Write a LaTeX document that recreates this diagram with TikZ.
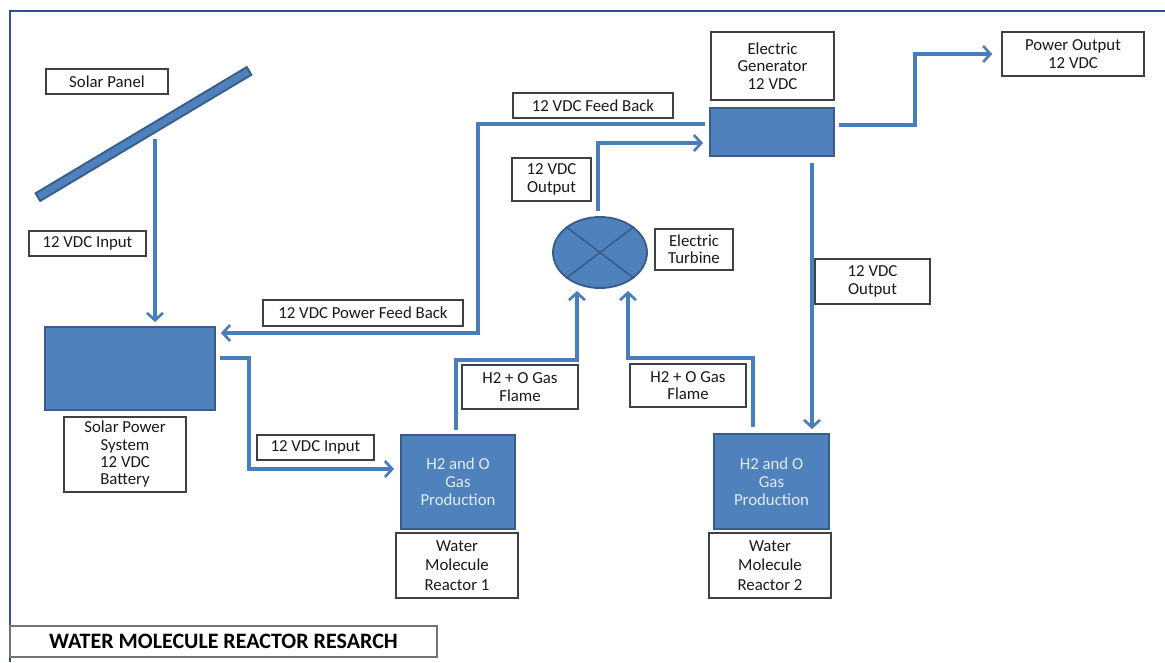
\documentclass[tikz,border=0pt]{standalone}
\usepackage{fontspec}
\setmainfont{Carlito}
\usetikzlibrary{shapes.geometric,arrows.meta,calc}
\definecolor{blk}{HTML}{4F81BD}
\definecolor{blkb}{HTML}{385D8A}
\definecolor{arr}{HTML}{4A7EBB}
\definecolor{frm}{HTML}{2F528F}
\def\u{0.75pt}
\tikzset{
  lbl/.style={draw=black!75, line width=1.1pt, fill=white, align=center, inner sep=0pt,
    font=\fontsize{12.6}{13}\selectfont, text=black!90},
  blkbox/.style={draw=blkb, line width=1.4pt, fill=blk, inner sep=0pt, align=center,
    font=\fontsize{12.6}{13.5}\selectfont, text=white!85!blk},
  conn/.style={draw=arr, line width=2.6pt, -{Straight Barb[length=5.5pt,width=12pt,line width=2pt]}},
}
\begin{document}
\begin{tikzpicture}[x=0.75pt,y=-0.75pt]
\useasboundingbox (0,0) rectangle (1165,662);
% frame
\draw[frm, line width=1.6pt] (10,662) -- (10,11) -- (1165,11);
% title
\node[draw=black!55, line width=1.1pt, fill=white, inner sep=0pt, minimum width=427*\u, minimum height=31*\u,
  font=\fontsize{16.5}{18}\selectfont\bfseries] (title) at (223.5,641.5) {WATER MOLECULE REACTOR RESARCH};

% solar panel
\node[lbl, minimum width=122*\u, minimum height=25*\u] (splbl) at (107,81.5) {Solar Panel};
\node[blkbox, rotate=30.85, minimum width=246*\u, minimum height=9*\u] (panel) at (143.5,134) {};
\coordinate (pin) at (155,139);
\node[lbl, minimum width=117*\u, minimum height=25*\u] (in1) at (87.5,243.5) {12 VDC Input};

% battery
\node[blkbox, minimum width=170*\u, minimum height=83*\u] (bat) at (130,368.5) {};
\node[lbl, minimum width=122*\u, minimum height=75*\u] (batlbl) at (125,454.5) {Solar Power\\System\\12 VDC\\Battery};
\draw[conn] (pin) -- ($(pin |- bat.north)+(0,-4)$);

% reactors
\node[blkbox, minimum width=114*\u, minimum height=94*\u] (h1) at (458,482) {H2 and O\\Gas\\Production};
\node[lbl, minimum width=122*\u, minimum height=65*\u, font=\fontsize{12.6}{14.5}\selectfont] (r1) at (457,565.5) {Water\\Molecule\\Reactor 1};
\node[blkbox, minimum width=115*\u, minimum height=95*\u] (h2) at (771.5,481.5) {H2 and O\\Gas\\Production};
\node[lbl, minimum width=122*\u, minimum height=65*\u, font=\fontsize{12.6}{14.5}\selectfont] (r2) at (770,565.5) {Water\\Molecule\\Reactor 2};

% battery -> reactor 1
\node[lbl, minimum width=117*\u, minimum height=25*\u] (in2) at (315.5,447.5) {12 VDC Input};
\draw[conn] ($(bat.east)+(4,-10.5)$) -- (249,358) |- ($(h1.west)+(-6,-13)$);

% generator
\node[lbl, minimum width=123*\u, minimum height=68*\u] (genlbl) at (772.5,66) {Electric\\Generator\\12 VDC};
\node[blkbox, minimum width=124*\u, minimum height=48*\u] (gen) at (772,132) {};
\node[lbl, minimum width=142*\u, minimum height=44*\u] (pout) at (1073,54) {Power Output\\12 VDC};
\draw[conn] ($(gen.east)+(4,-7)$) -- (915,125) |- ($(pout.west)+(-9,0)$);

% feed back
\node[lbl, minimum width=160*\u, minimum height=25*\u] (fb) at (593,105.5) {12 VDC Feed Back};
\node[lbl, minimum width=200*\u, minimum height=26*\u] (pfb) at (363,313) {12 VDC Power Feed Back};
\draw[conn] ($(gen.west)+(-4,-8)$) -- (478,124) |- ($(bat.east)+(5,-35.5)$);

% turbine
\node[draw=blkb, line width=1.4pt, fill=blk, ellipse, inner sep=0pt, minimum width=94*\u, minimum height=71*\u] (tb) at (600,252.5) {};
\draw[blkb, line width=1.2pt] (tb.north west) -- (tb.south east);
\draw[blkb, line width=1.2pt] (tb.north east) -- (tb.south west);
\node[lbl, minimum width=78*\u, minimum height=41*\u] (tblbl) at (694,249.5) {Electric\\Turbine};
\node[lbl, minimum width=79*\u, minimum height=43*\u] (tout) at (551.5,179.5) {12 VDC\\Output};
\draw[conn] ($(tb.north)+(-2,-5)$) -- (598,143) -- ($(gen.west)+(-6,11)$);

% generator -> reactor 2
\node[lbl, minimum width=115*\u, minimum height=45*\u] (gout) at (872.5,281.5) {12 VDC\\Output};
\draw[conn] ($(gen.south)+(40,6)$) -- ($(h2.north)+(40.5,-4)$);

% flames
\node[lbl, minimum width=116*\u, minimum height=44*\u] (fl1) at (520,387) {H2 + O Gas\\Flame};
\node[lbl, minimum width=116*\u, minimum height=43*\u] (fl2) at (688,385.5) {H2 + O Gas\\Flame};
\draw[conn] ($(h1.north)+(-2,-4)$) -- (456,360) -| ($(tb.south)+(-23,2)$);
\draw[conn] ($(h2.north)+(-18.5,-6)$) -- (753,358) -| ($(tb.south)+(28,2)$);
\end{tikzpicture}
\end{document}
